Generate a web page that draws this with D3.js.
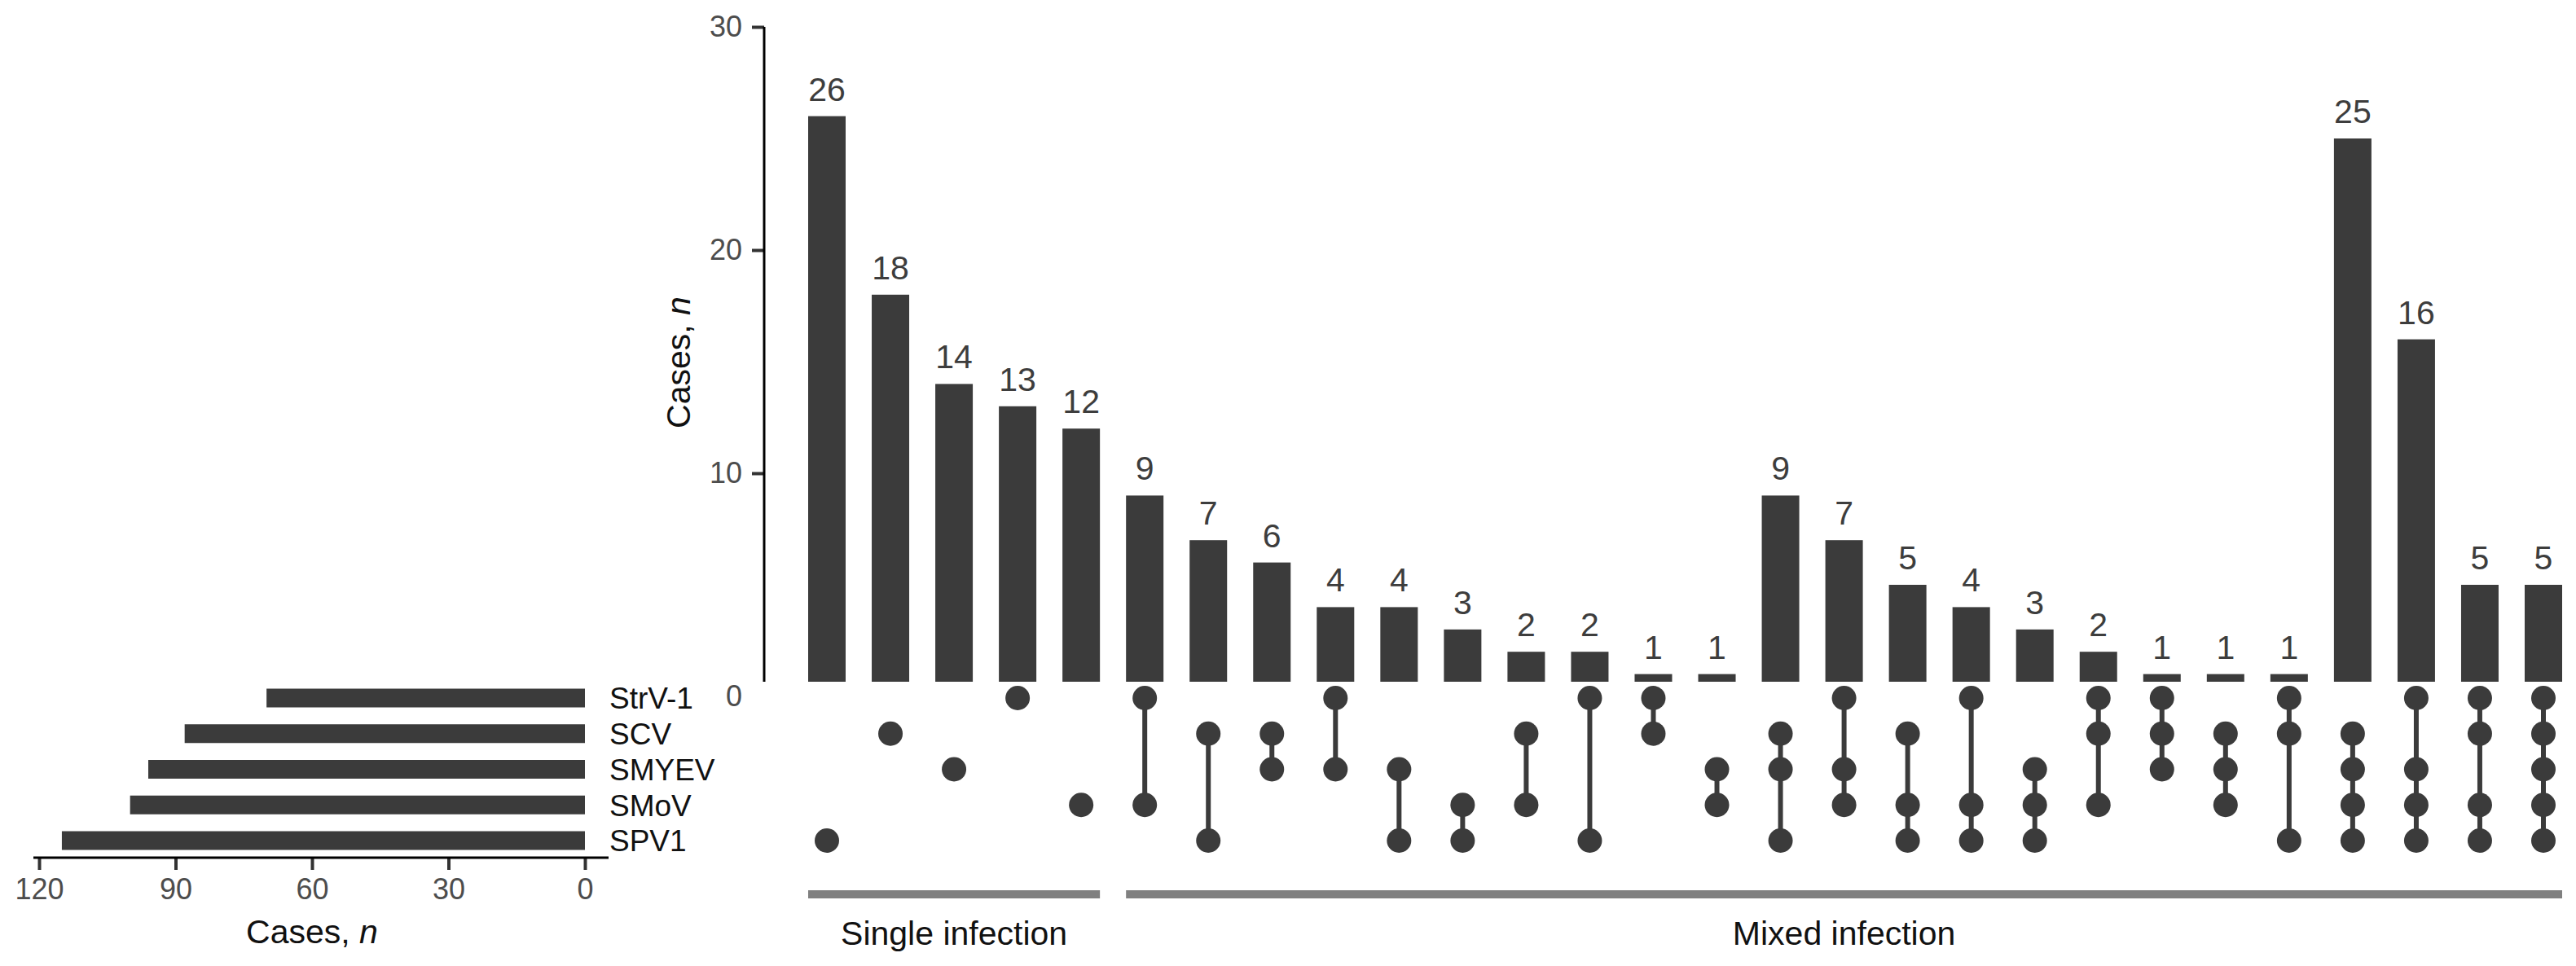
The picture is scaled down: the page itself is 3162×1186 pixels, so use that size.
<!DOCTYPE html>
<html>
<head>
<meta charset="utf-8">
<script src="https://cdn.jsdelivr.net/npm/d3@7"></script>
<style>
  html, body { margin: 0; padding: 0; background: #fff; }
  svg { display: block; font-family: "Liberation Sans", Arial, Helvetica, sans-serif; }
</style>
</head>
<body>
<div id="chart"></div>
<script>
/* global d3 */

// Sets (matrix rows, top to bottom) and their total sizes
var sets     = ['StrV-1', 'SCV', 'SMYEV', 'SMoV', 'SPV1'];
var setSizes = [70, 88, 96, 100, 115];

// Intersections, left to right
var counts = [26, 18, 14, 13, 12, 9, 7, 6, 4, 4, 3, 2, 2, 1, 1, 9, 7, 5, 4, 3, 2, 1, 1, 1, 25, 16, 5, 5];
var members = [
  ['SPV1'], ['SCV'], ['SMYEV'], ['StrV-1'], ['SMoV'],
  ['StrV-1', 'SMoV'], ['SCV', 'SPV1'], ['SCV', 'SMYEV'], ['StrV-1', 'SMYEV'], ['SMYEV', 'SPV1'],
  ['SMoV', 'SPV1'], ['SCV', 'SMoV'], ['StrV-1', 'SPV1'], ['StrV-1', 'SCV'], ['SMYEV', 'SMoV'],
  ['SCV', 'SMYEV', 'SPV1'], ['StrV-1', 'SMYEV', 'SMoV'], ['SCV', 'SMoV', 'SPV1'], ['StrV-1', 'SMoV', 'SPV1'],
  ['SMYEV', 'SMoV', 'SPV1'], ['StrV-1', 'SCV', 'SMoV'], ['StrV-1', 'SCV', 'SMYEV'], ['SCV', 'SMYEV', 'SMoV'],
  ['StrV-1', 'SCV', 'SPV1'],
  ['SCV', 'SMYEV', 'SMoV', 'SPV1'], ['StrV-1', 'SMYEV', 'SMoV', 'SPV1'], ['StrV-1', 'SCV', 'SMoV', 'SPV1'],
  ['StrV-1', 'SCV', 'SMYEV', 'SMoV', 'SPV1']
];

// Groups of intersections shown under the matrix
var groupLabels = ['Single infection', 'Mixed infection'];
var groupFirst  = [0, 5];
var groupLast   = [4, 27];

var yTicks   = [0, 10, 20, 30];
var setTicks = [0, 30, 60, 90, 120];

var W = 3162, H = 1186;
var DARK = '#3b3b3b';

var svg = d3.select('#chart').append('svg')
  .attr('xmlns', 'http://www.w3.org/2000/svg')
  .attr('width', W)
  .attr('height', H);

var idx = counts.map(function(d, i){ return i; });

// Scales
var x = d3.scalePoint().domain(idx).range([1015, 3122]);
var y = d3.scaleLinear().domain([0, 30]).range([855, 33]);
var row = d3.scalePoint().domain(sets).range([857, 1032]);
var xs = d3.scaleLinear().domain([0, 120]).range([718, 48]);

var barW = 46, setBarH = 23, dotR = 15;
var clipBottom = 837;

// Clip for intersection bars (the matrix covers the foot of the bars)
svg.append('defs').append('clipPath').attr('id', 'barclip')
  .append('rect')
  .attr('x', 0).attr('y', 0)
  .attr('width', W).attr('height', clipBottom);

// Intersection bars
var bars = svg.append('g').attr('class', 'bars').attr('clip-path', 'url(#barclip)');
bars.selectAll('rect').data(counts).enter().append('rect')
  .attr('x', function(d, i){ return x(i) - barW / 2; })
  .attr('y', function(d){ return y(d); })
  .attr('width', barW)
  .attr('height', function(d){ return y(0) - y(d); })
  .style('fill', DARK);

// Value labels
svg.append('g').selectAll('text').data(counts).enter().append('text')
  .attr('x', function(d, i){ return x(i); })
  .attr('y', function(d){ return y(d) - 19; })
  .style('text-anchor', 'middle')
  .style('font-size', '41px')
  .style('fill', '#3d3d3d')
  .text(function(d){ return d; });

// Y axis of intersection sizes
var yAxis = svg.append('g')
  .attr('transform', 'translate(938,0)')
  .call(d3.axisLeft(y).tickValues(yTicks).tickSize(15).tickPadding(12));
yAxis.select('.domain').remove();
yAxis.selectAll('.tick line').style('stroke', '#333').style('stroke-width', 4)
  .filter(function(d){ return d === 0; }).remove();
yAxis.selectAll('.tick text')
  .style('font-size', '36px')
  .style('fill', '#4d4d4d')
  .style('font-family', '"Liberation Sans", Arial, sans-serif');
yAxis.append('line')
  .attr('x1', 0).attr('x2', 0)
  .attr('y1', y(30)).attr('y2', clipBottom)
  .style('stroke', '#000').style('stroke-width', 3);

svg.append('text')
  .attr('transform', 'translate(847,' + ((y(30) + clipBottom) / 2 + 10) + ') rotate(-90)')
  .style('text-anchor', 'middle')
  .style('font-size', '41px')
  .style('fill', '#111')
  .html('Cases, <tspan font-style="italic">n</tspan>');

// Matrix: connecting lines and dots
var matrix = svg.append('g').attr('class', 'matrix');
matrix.selectAll('line').data(members).enter().append('line')
  .attr('x1', function(d, i){ return x(i); })
  .attr('x2', function(d, i){ return x(i); })
  .attr('y1', function(d){ return d3.min(d, function(s){ return row(s); }); })
  .attr('y2', function(d){ return d3.max(d, function(s){ return row(s); }); })
  .style('stroke', DARK)
  .style('stroke-width', 6);

members.forEach(function(m, i){
  matrix.append('g').selectAll('circle').data(m).enter().append('circle')
    .attr('cx', x(i))
    .attr('cy', function(s){ return row(s); })
    .attr('r', dotR)
    .style('fill', DARK);
});

// Set size bars (left)
svg.append('g').selectAll('rect').data(setSizes).enter().append('rect')
  .attr('x', function(d){ return xs(d); })
  .attr('y', function(d, i){ return row(sets[i]) - setBarH / 2; })
  .attr('width', function(d){ return xs(0) - xs(d); })
  .attr('height', setBarH)
  .style('fill', DARK);

// Set labels
svg.append('g').selectAll('text').data(sets).enter().append('text')
  .attr('x', 748)
  .attr('y', function(d){ return row(d); })
  .attr('dy', '0.36em')
  .style('font-size', '37px')
  .style('fill', '#111')
  .text(function(d){ return d; });

// Set size axis
var xsAxis = svg.append('g')
  .attr('transform', 'translate(0,1053)')
  .call(d3.axisBottom(xs).tickValues(setTicks).tickSize(15).tickPadding(10));
xsAxis.select('.domain').remove();
xsAxis.selectAll('.tick line').style('stroke', '#333').style('stroke-width', 4);
xsAxis.selectAll('.tick text')
  .style('font-size', '36px')
  .style('fill', '#4d4d4d')
  .style('font-family', '"Liberation Sans", Arial, sans-serif');
xsAxis.append('line')
  .attr('x1', 41).attr('x2', 747)
  .attr('y1', 0).attr('y2', 0)
  .style('stroke', '#000').style('stroke-width', 3);

svg.append('text')
  .attr('x', xs(60))
  .attr('y', 1158)
  .style('text-anchor', 'middle')
  .style('font-size', '41px')
  .style('fill', '#111')
  .html('Cases, <tspan font-style="italic">n</tspan>');

// Group brackets
var grp = svg.append('g').selectAll('g').data(groupLabels).enter().append('g');
grp.append('rect')
  .attr('x', function(d, i){ return x(groupFirst[i]) - barW / 2; })
  .attr('y', 1093)
  .attr('width', function(d, i){ return x(groupLast[i]) - x(groupFirst[i]) + barW; })
  .attr('height', 10)
  .style('fill', '#808080');
grp.append('text')
  .attr('x', function(d, i){ return (x(groupFirst[i]) + x(groupLast[i])) / 2; })
  .attr('y', 1160)
  .style('text-anchor', 'middle')
  .style('font-size', '41px')
  .style('fill', '#111')
  .text(function(d){ return d; });
</script>
</body>
</html>
